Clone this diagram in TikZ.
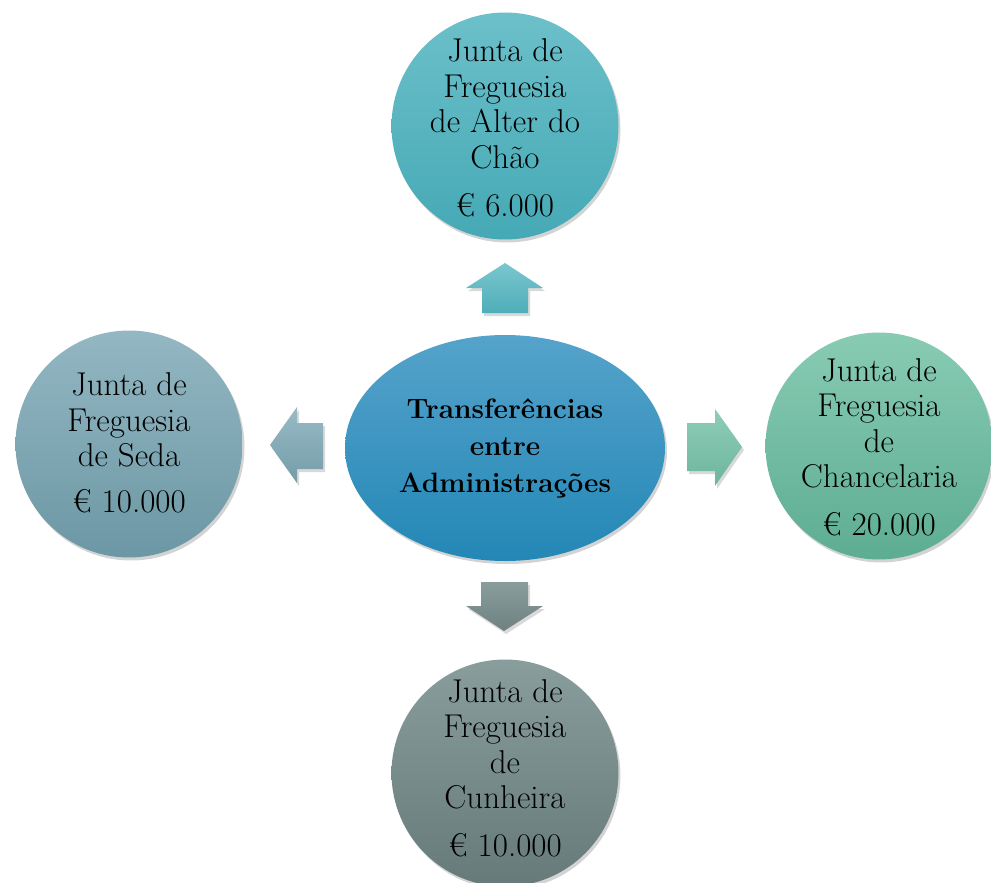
\documentclass[tikz,border=0pt]{standalone}
\usepackage{fontspec}
\usetikzlibrary{shadows,shapes.geometric}
\definecolor{topA}{HTML}{6CC0CA}\definecolor{topB}{HTML}{45A9B5}
\definecolor{cenA}{HTML}{55A3CB}\definecolor{cenB}{HTML}{2387B6}
\definecolor{lefA}{HTML}{93B7C3}\definecolor{lefB}{HTML}{6C97A4}
\definecolor{rigA}{HTML}{88CBB3}\definecolor{rigB}{HTML}{5DAD93}
\definecolor{botA}{HTML}{8A9D9D}\definecolor{botB}{HTML}{677A7A}
\tikzset{
  bubble/.style={circle,minimum size=227pt,inner sep=0pt,draw=none,
    drop shadow={opacity=0.35,shadow xshift=2pt,shadow yshift=-3pt}},
  blockarrow/.style={draw=none,
    drop shadow={opacity=0.3,shadow xshift=2pt,shadow yshift=-3pt}},
  label/.style={align=center,font=\fontsize{33}{35.5}\selectfont,inner sep=0pt},
  clabel/.style={align=center,font=\bfseries\fontsize{28}{37}\selectfont,inner sep=0pt}
}
\begin{document}
\begin{tikzpicture}[x=1pt,y=-1pt]
\useasboundingbox (0,0) rectangle (991,883);
% circles
\node[bubble,top color=topA,bottom color=topB] (top) at (505,126) {};
\node[bubble,top color=lefA,bottom color=lefB] (left) at (129,444) {};
\node[bubble,top color=rigA,bottom color=rigB] (right) at (879,446) {};
\node[bubble,top color=botA,bottom color=botB] (bot) at (505,773) {};
\node[ellipse,minimum width=320pt,minimum height=226pt,inner sep=0pt,
  top color=cenA,bottom color=cenB,
  drop shadow={opacity=0.35,shadow xshift=2pt,shadow yshift=-3pt}] (center) at (505,448) {};
% arrows
\path[blockarrow,top color=topA!90!white,bottom color=topB!95!white]
  (482,313) -- (482,288) -- (466,288) -- (505,263) -- (543,288) -- (528,288) -- (528,313) -- cycle;
\path[blockarrow,top color=botA,bottom color=botB!95!white]
  (481,582) -- (528,582) -- (528,606) -- (543,606) -- (504,631) -- (466,606) -- (481,606) -- cycle;
\path[blockarrow,top color=lefA!95!white,bottom color=lefB!95!white]
  (323,423) -- (297,423) -- (297,407) -- (270,445) -- (297,483) -- (297,469) -- (323,469) -- cycle;
\path[blockarrow,top color=rigA!95!white,bottom color=rigB!90!white]
  (687,423) -- (715,423) -- (715,409) -- (742,447) -- (715,486) -- (715,471) -- (687,471) -- cycle;
% texts
\node[label] (ttop) at (505,128) {Junta de\\Freguesia\\de Alter do\\Chão\\[13pt]€ 6.000};
\node[label] (tleft) at (129,443) {Junta de\\Freguesia\\de Seda\\[10pt]€ 10.000};
\node[label] (tright) at (879,447) {Junta de\\Freguesia\\de\\Chancelaria\\[12pt]€ 20.000};
\node[label] (tbot) at (505,768) {Junta de\\Freguesia\\de\\Cunheira\\[12pt]€ 10.000};
\node[clabel] (tcenter) at (505,448) {Transferências\\entre\\Administrações};
\end{tikzpicture}
\end{document}
